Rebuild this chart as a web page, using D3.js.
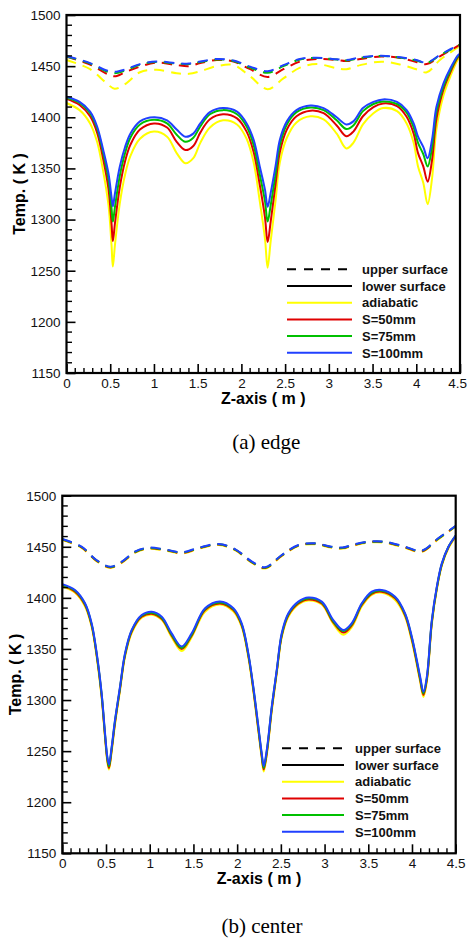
<!DOCTYPE html>
<html>
<head>
<meta charset="utf-8">
<script src="https://cdn.jsdelivr.net/npm/d3@7"></script>
<style>
  html, body { margin: 0; padding: 0; background: #fff; }
  svg { display: block; }
</style>
</head>
<body>
<svg id="chart" width="467" height="938"></svg>
<script>
// ---------------- DATA ----------------
const yTicks = [1150, 1200, 1250, 1300, 1350, 1400, 1450, 1500];
const xTicks = [0, 0.5, 1, 1.5, 2, 2.5, 3, 3.5, 4, 4.5];
const seriesNames = ["adiabatic", "S=50mm", "S=75mm", "S=100mm"];
const seriesColors = ["#ffff00", "#e00000", "#00c000", "#2040ff"];
const legendLabels = ["upper surface", "lower surface", "adiabatic", "S=50mm", "S=75mm", "S=100mm"];

// (a) edge — lower surface (solid)
const edgeLowerZ = [0, 0.15, 0.27, 0.35, 0.42, 0.48, 0.515, 0.53, 0.555, 0.61, 0.67, 0.73, 0.84, 1.0, 1.15, 1.26, 1.36, 1.45, 1.53, 1.64, 1.79, 1.95, 2.06, 2.14, 2.21, 2.27, 2.30, 2.335, 2.39, 2.44, 2.52, 2.63, 2.79, 2.94, 3.09, 3.2, 3.28, 3.39, 3.51, 3.62, 3.78, 3.89, 3.97, 4.02, 4.08, 4.13, 4.18, 4.23, 4.31, 4.39, 4.48, 4.5];
const edgeLowerAdiabatic = [1414, 1407, 1394, 1376, 1347, 1314, 1275, 1254, 1276, 1316, 1344, 1362, 1379, 1386, 1381, 1365, 1355, 1360, 1375, 1390, 1397, 1393, 1379, 1356, 1318, 1281, 1253, 1279, 1318, 1356, 1380, 1395, 1401, 1398, 1384, 1369.5, 1375, 1393, 1404, 1409, 1406, 1394, 1375, 1352, 1336, 1315, 1340, 1388, 1421, 1440, 1457, 1458];
const edgeLowerS50 = [1418, 1412, 1401, 1385, 1359, 1330, 1296, 1279, 1297, 1332, 1357, 1373, 1388, 1394, 1390, 1376, 1368, 1372, 1385, 1398, 1403, 1399, 1386, 1366, 1334, 1302, 1278, 1298, 1334, 1366, 1388, 1401, 1406.5, 1404, 1392, 1381.5, 1386, 1401, 1410, 1413.5, 1411, 1400.5, 1384, 1365, 1352, 1337, 1358, 1398, 1427, 1444, 1459, 1460];
const edgeLowerS75 = [1419, 1414, 1404, 1389, 1365, 1339, 1311, 1298, 1313, 1343, 1365, 1380, 1393, 1397.5, 1394, 1383, 1376, 1380, 1391, 1403, 1407, 1403, 1391, 1373, 1344, 1318, 1298, 1314, 1344, 1373, 1393, 1405, 1409.5, 1407, 1397, 1388.5, 1392, 1406, 1413, 1415.5, 1413, 1404.5, 1390, 1375, 1364, 1352, 1370, 1405, 1430, 1446, 1460, 1461];
const edgeLowerS100 = [1420, 1415, 1405.5, 1391, 1368, 1345, 1322, 1313, 1326, 1352, 1371, 1384, 1396, 1400, 1397, 1388, 1381, 1384, 1394, 1405, 1409, 1405.5, 1394, 1378, 1352, 1329, 1312.5, 1326, 1352, 1378, 1396, 1407, 1411.5, 1409, 1400, 1393, 1396, 1409, 1415, 1417.5, 1415, 1407, 1394, 1381, 1371, 1360, 1378, 1410, 1433, 1448, 1461, 1462];

// (a) edge — upper surface (dashed)
const edgeUpperZ = [0, 0.27, 0.45, 0.55, 0.68, 0.84, 1.03, 1.26, 1.4, 1.53, 1.72, 1.91, 2.1, 2.3, 2.48, 2.67, 2.86, 3.09, 3.2, 3.36, 3.6, 3.82, 4.0, 4.12, 4.27, 4.4, 4.5];
const edgeUpperAdiabatic = [1456, 1447, 1434, 1428, 1433, 1444, 1446.5, 1443, 1442.5, 1445, 1450, 1451, 1440, 1427.5, 1438, 1448.5, 1452, 1448, 1447, 1451, 1454.4, 1451.5, 1447, 1444, 1456, 1464, 1470];
const edgeUpperS50 = [1459.5, 1451.5, 1443, 1440, 1444.5, 1449.5, 1453.5, 1451, 1450, 1453, 1456, 1454.5, 1447, 1439.5, 1447, 1454.5, 1457, 1456, 1455, 1457, 1459.5, 1458, 1454, 1452, 1459.5, 1466, 1471];
const edgeUpperS75 = [1459.5, 1452.5, 1445, 1443, 1446, 1451.5, 1454, 1452.5, 1452, 1454, 1456.5, 1455, 1448.5, 1443.5, 1450, 1456.5, 1458, 1456.5, 1455.5, 1458, 1460, 1458.3, 1455.5, 1453, 1460.5, 1466.5, 1471];
const edgeUpperS100 = [1460, 1453, 1446, 1444.5, 1447, 1452, 1454.5, 1453, 1452.5, 1454.5, 1457, 1455.5, 1449.5, 1445, 1451, 1457, 1458.3, 1456.7, 1456, 1458.6, 1460.2, 1458.6, 1456, 1453.4, 1461, 1467, 1471];

// (b) center — lower surface (solid)
const centerLowerZ = [0, 0.145, 0.26, 0.336, 0.394, 0.45, 0.489, 0.515, 0.534, 0.565, 0.603, 0.66, 0.717, 0.794, 0.908, 1.023, 1.137, 1.251, 1.366, 1.48, 1.633, 1.804, 1.957, 2.052, 2.128, 2.185, 2.243, 2.281, 2.304, 2.339, 2.396, 2.453, 2.51, 2.586, 2.7, 2.815, 2.968, 3.1, 3.215, 3.31, 3.426, 3.54, 3.654, 3.807, 3.921, 3.998, 4.055, 4.093, 4.131, 4.17, 4.227, 4.284, 4.341, 4.417, 4.5];
const centerLowerAdiabatic = [1411, 1405, 1391.5, 1371.5, 1341.5, 1302, 1262.5, 1239.5, 1232, 1249.5, 1276, 1309, 1342, 1365.5, 1380.5, 1383.5, 1378.5, 1361.5, 1348, 1361.5, 1386.5, 1393.5, 1386.5, 1371.5, 1341.5, 1308.5, 1269, 1243, 1230, 1246, 1289, 1325.5, 1361.5, 1381.5, 1393.5, 1397.5, 1393.5, 1374.5, 1364, 1371, 1391.5, 1403, 1405, 1398, 1381.5, 1357.5, 1334.5, 1318, 1303, 1318, 1374, 1408, 1431.5, 1448.5, 1460];
const centerLowerS50 = [1412, 1406, 1393, 1373, 1343.5, 1304, 1264.5, 1241.5, 1233.5, 1251.5, 1278, 1311, 1343.5, 1367, 1381.5, 1384.5, 1379.5, 1363, 1350, 1363, 1388, 1394.5, 1388, 1373, 1343.5, 1310.5, 1271, 1245, 1232, 1248, 1291, 1327.5, 1363, 1383, 1394.5, 1398.5, 1394.5, 1376, 1366, 1373, 1393, 1404, 1406, 1399.5, 1383, 1359.5, 1336.5, 1320, 1305, 1320, 1376, 1409.5, 1432.5, 1449.5, 1460.5];
const centerLowerS75 = [1412.5, 1407, 1394, 1374, 1344.5, 1305.5, 1266, 1243, 1235, 1253, 1279.5, 1312, 1344.5, 1368, 1382.5, 1385.5, 1380.5, 1364, 1351, 1364, 1389, 1395.5, 1389, 1374, 1344.5, 1312, 1272.5, 1246.5, 1233.5, 1249.5, 1292.5, 1328.5, 1364, 1384, 1395.5, 1399.5, 1395.5, 1377, 1367.5, 1374, 1394, 1405, 1407, 1400.5, 1384, 1361, 1338, 1321.5, 1306.5, 1321.5, 1377, 1410, 1433, 1450, 1461];
const centerLowerS100 = [1413.5, 1407.7, 1394.7, 1375, 1345.7, 1306.6, 1267.4, 1244.5, 1237, 1254.3, 1280.5, 1313, 1345.7, 1368.6, 1383.2, 1386.5, 1381.6, 1365.3, 1352.5, 1365.3, 1389.8, 1396.5, 1389.8, 1375.1, 1345.7, 1313, 1274, 1248, 1235.5, 1251.1, 1293.5, 1329.4, 1365.3, 1384.9, 1396.3, 1400.4, 1396.3, 1378.3, 1368.5, 1375.1, 1394.7, 1406, 1407.7, 1401.1, 1384.9, 1362, 1339.2, 1323, 1308, 1322.8, 1378.3, 1410.9, 1433.8, 1450.1, 1461];

// (b) center — upper surface (dashed)
const centerUpperZ = [0, 0.22, 0.39, 0.55, 0.68, 0.83, 0.98, 1.17, 1.37, 1.56, 1.79, 1.98, 2.17, 2.32, 2.51, 2.7, 2.89, 3.08, 3.21, 3.31, 3.5, 3.69, 3.92, 4.11, 4.3, 4.5];
const centerUpperAdiabatic = [1456.6, 1449, 1436, 1429.3, 1434.3, 1444, 1448, 1446.4, 1443.4, 1448, 1451.7, 1446.4, 1434.3, 1428.7, 1440.9, 1450.6, 1452.4, 1449, 1448.2, 1450.6, 1454, 1454, 1449, 1445, 1457.3, 1469.8];
const centerUpperS50 = [1457, 1449.5, 1436.5, 1429.8, 1434.8, 1444.5, 1448.5, 1446.9, 1443.9, 1448.5, 1452.2, 1446.9, 1434.8, 1429.2, 1441.4, 1451.1, 1452.9, 1449.5, 1448.7, 1451.1, 1454.5, 1454.5, 1449.5, 1445.5, 1457.8, 1470];
const centerUpperS75 = [1457.3, 1449.8, 1436.8, 1430.2, 1435.1, 1444.9, 1448.8, 1447.2, 1444.3, 1448.8, 1452.4, 1447.2, 1435.1, 1429.6, 1441.7, 1451.4, 1453.1, 1449.8, 1449, 1451.4, 1454.7, 1454.7, 1449.8, 1445.9, 1458, 1470.2];
const centerUpperS100 = [1457.6, 1450.1, 1437.1, 1430.5, 1435.4, 1445.2, 1449.1, 1447.5, 1444.6, 1449.1, 1452.7, 1447.5, 1435.4, 1429.9, 1442, 1451.7, 1453.4, 1450.1, 1449.3, 1451.7, 1455, 1455, 1450.1, 1446.2, 1458.3, 1470.5];

// ---------------- DRAWING ----------------
const svg = d3.select("#chart");

const panels = [
  {
    id: "a", left: 66.5, right: 460, top: 15, bottom: 373,
    lowerZ: edgeLowerZ, lower: [edgeLowerAdiabatic, edgeLowerS50, edgeLowerS75, edgeLowerS100],
    upperZ: edgeUpperZ, upper: [edgeUpperAdiabatic, edgeUpperS50, edgeUpperS75, edgeUpperS100],
    legX1: 287, legX2: 352, legTextX: 362, legY0: 269.3,
    yTitleX: 19.5, caption: "(a) edge", captionY: 449
  },
  {
    id: "b", left: 62.3, right: 455.7, top: 495.7, bottom: 853.3,
    lowerZ: centerLowerZ, lower: [centerLowerAdiabatic, centerLowerS50, centerLowerS75, centerLowerS100],
    upperZ: centerUpperZ, upper: [centerUpperAdiabatic, centerUpperS50, centerUpperS75, centerUpperS100],
    legX1: 282, legX2: 344, legTextX: 355, legY0: 748.3,
    yTitleX: 15.5, caption: "(b) center", captionY: 933
  }
];

const sansFont = "Arial, 'Liberation Sans', Helvetica, sans-serif";
const serifFont = "'Times New Roman', 'Liberation Serif', Times, serif";
const W = 467;

panels.forEach(p => {
  const x = d3.scaleLinear().domain([0, 4.5]).range([p.left, p.right]);
  const y = d3.scaleLinear().domain([1150, 1500]).range([p.bottom, p.top]);
  const g = svg.append("g");

  const clipId = "clip-" + p.id;
  svg.append("clipPath").attr("id", clipId)
    .append("rect").attr("x", p.left).attr("y", p.top)
    .attr("width", p.right - p.left).attr("height", p.bottom - p.top);

  const line = d3.line()
    .x(d => x(d[0])).y(d => y(d[1]))
    .curve(d3.curveCatmullRom.alpha(0.5));

  const lines = g.append("g").attr("clip-path", `url(#${clipId})`);

  // dashed upper surface
  p.upper.forEach((vals, i) => {
    lines.append("path")
      .datum(p.upperZ.map((z, k) => [z, vals[k]]))
      .attr("d", line)
      .attr("fill", "none")
      .attr("stroke", seriesColors[i])
      .attr("stroke-width", 2)
      .attr("stroke-dasharray", "10,7");
  });
  // solid lower surface
  p.lower.forEach((vals, i) => {
    lines.append("path")
      .datum(p.lowerZ.map((z, k) => [z, vals[k]]))
      .attr("d", line)
      .attr("fill", "none")
      .attr("stroke", seriesColors[i])
      .attr("stroke-width", 2);
  });

  // minor ticks
  const yMinor = d3.range(1150, 1501, 10).filter(v => v % 50 !== 0);
  const xMinor = d3.range(0, 46).map(v => v / 10).filter(v => Math.abs(v * 2 - Math.round(v * 2)) > 1e-6);

  const tickG = g.append("g").attr("stroke", "#000").attr("stroke-width", 1.4);
  yMinor.forEach(v => {
    tickG.append("line").attr("x1", p.left).attr("x2", p.left + 5.5)
      .attr("y1", y(v)).attr("y2", y(v));
  });
  xMinor.forEach(v => {
    tickG.append("line").attr("y1", p.bottom).attr("y2", p.bottom - 5)
      .attr("x1", x(v)).attr("x2", x(v));
  });

  // axes via d3
  const yAxis = d3.axisRight(y).tickValues(yTicks).tickSize(9).tickFormat("");
  const xAxis = d3.axisTop(x).tickValues(xTicks).tickSize(9).tickFormat("");
  const ya = g.append("g").attr("transform", `translate(${p.left},0)`).call(yAxis);
  const xa = g.append("g").attr("transform", `translate(0,${p.bottom})`).call(xAxis);
  [ya, xa].forEach(a => {
    a.select(".domain").remove();
    a.selectAll(".tick line").attr("stroke", "#000").attr("stroke-width", 1.6);
  });

  // tick labels
  const yl = d3.axisLeft(y).tickValues(yTicks).tickSize(0).tickPadding(6).tickFormat(d3.format("d"));
  const yla = g.append("g").attr("transform", `translate(${p.left},0)`).call(yl);
  yla.select(".domain").remove();
  yla.selectAll("text").attr("font-family", sansFont).attr("font-size", 13.5).attr("fill", "#111");

  const xl = d3.axisBottom(x).tickValues(xTicks).tickSize(0).tickPadding(5).tickFormat(d => String(d));
  const xla = g.append("g").attr("transform", `translate(0,${p.bottom})`).call(xl);
  xla.select(".domain").remove();
  xla.selectAll("text").attr("font-family", sansFont).attr("font-size", 13.5).attr("fill", "#111");
  // keep the last label inside the page
  xla.selectAll("text").each(function () {
    const bb = this.getBBox();
    const tx = x(+this.__data__);
    if (tx + bb.width / 2 > W - 0.5) {
      d3.select(this).attr("text-anchor", "end").attr("x", (W - 0.5) - tx);
    }
  });

  // frame
  g.append("rect").attr("x", p.left).attr("y", p.top)
    .attr("width", p.right - p.left).attr("height", p.bottom - p.top)
    .attr("fill", "none").attr("stroke", "#000").attr("stroke-width", 2.2);

  // axis titles
  g.append("text")
    .attr("x", (p.left + p.right) / 2).attr("y", p.bottom + 30.5)
    .attr("text-anchor", "middle")
    .attr("font-family", sansFont).attr("font-weight", "bold").attr("font-size", 16)
    .text("Z-axis ( m )");
  g.append("text")
    .attr("transform", `translate(${p.yTitleX + 5.5},${(p.top + p.bottom) / 2}) rotate(-90)`)
    .attr("text-anchor", "middle")
    .attr("font-family", sansFont).attr("font-weight", "bold").attr("font-size", 16)
    .text("Temp. ( K )");

  // caption
  g.append("text")
    .attr("x", (p.left + p.right) / 2 + 3).attr("y", p.captionY)
    .attr("text-anchor", "middle")
    .attr("font-family", serifFont).attr("font-size", 21)
    .text(p.caption);

  // legend
  const leg = g.append("g");
  legendLabels.forEach((lab, i) => {
    const ly = p.legY0 + i * 16.7;
    let color = "#000", dash = null;
    if (i === 0) dash = "9,8";
    if (i >= 2) color = seriesColors[i - 2];
    leg.append("line")
      .attr("x1", p.legX1).attr("x2", p.legX2).attr("y1", ly).attr("y2", ly)
      .attr("stroke", color).attr("stroke-width", 2)
      .attr("stroke-dasharray", dash);
    leg.append("text")
      .attr("x", p.legTextX).attr("y", ly + 4.7)
      .attr("font-family", sansFont).attr("font-weight", "bold").attr("font-size", 13)
      .attr("fill", "#111")
      .text(lab);
  });
});
</script>
</body>
</html>
